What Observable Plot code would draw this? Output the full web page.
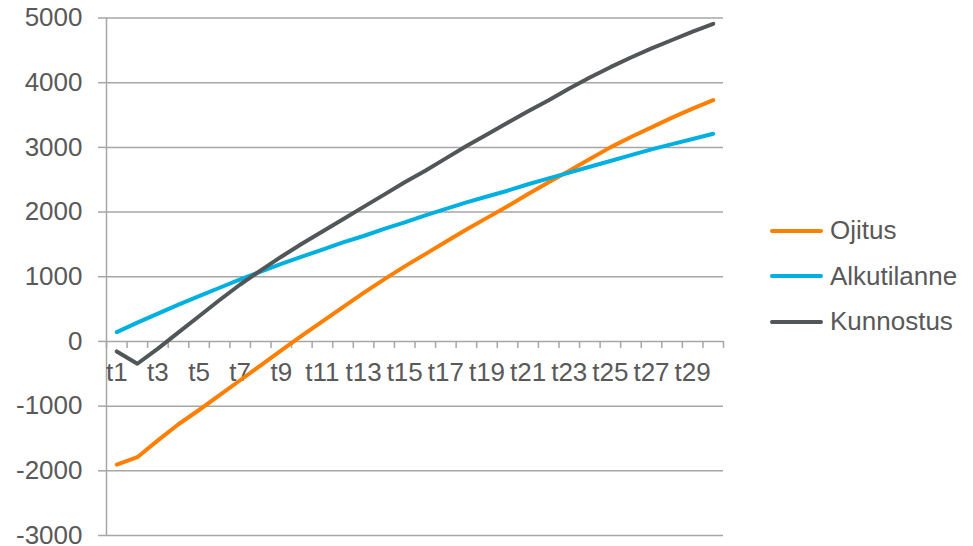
<!DOCTYPE html>
<html><head><meta charset="utf-8">
<script src="https://cdn.jsdelivr.net/npm/d3@7"></script>
<script src="https://cdn.jsdelivr.net/npm/@observablehq/plot@0.6"></script>
<style>
body{margin:0;background:#fff;}
#wrap{position:relative;width:973px;height:546px;font-family:"Liberation Sans",Arial,sans-serif;}
#wrap svg{overflow:visible;}
#legend{position:absolute;left:770px;top:208px;}
.item{display:flex;align-items:center;height:45.5px;font-size:26px;color:#595959;}
.sw{width:53px;height:4px;border-radius:2px;margin-right:7px;}
</style></head><body><div id="wrap"><div id="legend"></div></div>
<script>
const categories = ["t1","t2","t3","t4","t5","t6","t7","t8","t9","t10","t11","t12","t13","t14","t15","t16","t17","t18","t19","t20","t21","t22","t23","t24","t25","t26","t27","t28","t29","t30"];
const tickLabels = ["t1","t3","t5","t7","t9","t11","t13","t15","t17","t19","t21","t23","t25","t27","t29"];
const seriesNames = ["Ojitus","Alkutilanne","Kunnostus"];
const seriesColors = ["#FF7F00","#00B0E0","#515659"];
const ojitus = [-1905,-1790,-1530,-1280,-1060,-830,-600,-370,-140,90,310,530,750,960,1160,1350,1540,1730,1910,2090,2280,2460,2640,2820,3000,3160,3310,3460,3600,3730];
const alkutilanne = [145,290,430,570,700,830,960,1080,1200,1310,1420,1530,1630,1740,1840,1950,2050,2150,2240,2330,2430,2520,2610,2700,2790,2880,2970,3050,3130,3210];
const kunnostus = [-155,-345,-110,140,390,640,880,1100,1310,1510,1700,1890,2080,2270,2460,2640,2830,3020,3200,3380,3560,3730,3910,4080,4240,4390,4530,4660,4790,4910];
const yTicks = [-3000,-2000,-1000,0,1000,2000,3000,4000,5000];

const rows = [];
[ojitus, alkutilanne, kunnostus].forEach((vals, s) =>
  vals.forEach((v, i) => rows.push({series: seriesNames[s], x: i + 1, value: v})));

const W = 973, H = 546, mt = 17.5, mb = 11, ml = 106, mr = 250;
const yDomain = [d3.min(yTicks), d3.max(yTicks)];
const yS = Plot.scale({y: {domain: yDomain, range: [H - mb, mt]}});
const zeroDy = yS.apply(0) - (H - mb);
const boundaries = d3.range(categories.length + 1).map(i => i + 0.5);
const labelPos = tickLabels.map(l => categories.indexOf(l) + 1);
const grid = "#A6A6A6", txt = "#595959";

const chart = Plot.plot({
  width: W, height: H,
  marginTop: mt, marginBottom: mb, marginLeft: ml, marginRight: mr,
  style: {fontFamily: '"Liberation Sans", Arial, sans-serif', fontSize: "26px", color: txt, background: "#fff", overflow: "visible"},
  x: {type: "linear", domain: [0.5, categories.length + 0.5]},
  y: {domain: yDomain},
  color: {domain: seriesNames, range: seriesColors},
  marks: [
    Plot.gridY(yTicks, {stroke: grid, strokeOpacity: 1, strokeWidth: 1.5}),
    Plot.axisY({ticks: yTicks, tickSize: 8, tickPadding: 16, stroke: grid, strokeWidth: 1.5, fill: txt, label: null, tickFormat: d => String(d), fontSize: 26}),
    Plot.ruleX([boundaries[0]], {stroke: grid, strokeWidth: 1.5}),
    Plot.axisX({ticks: boundaries, tickSize: 7, tickFormat: () => "", stroke: grid, strokeWidth: 1.5, label: null, dy: zeroDy}),
    Plot.axisX({ticks: labelPos, tickSize: 0, tickPadding: 21, tickFormat: i => categories[i - 1], fill: txt, label: null, dy: zeroDy, fontSize: 26}),
    Plot.line(rows, {x: "x", y: "value", z: "series", stroke: "series", strokeWidth: 4, strokeLinejoin: "round", strokeLinecap: "round"})
  ]
});
document.getElementById("wrap").prepend(chart);

const legend = document.getElementById("legend");
seriesNames.forEach((n, i) => {
  const it = document.createElement("div"); it.className = "item";
  const sw = document.createElement("span"); sw.className = "sw"; sw.style.background = seriesColors[i];
  const t = document.createElement("span"); t.textContent = n;
  it.append(sw, t); legend.append(it);
});
</script></body></html>
